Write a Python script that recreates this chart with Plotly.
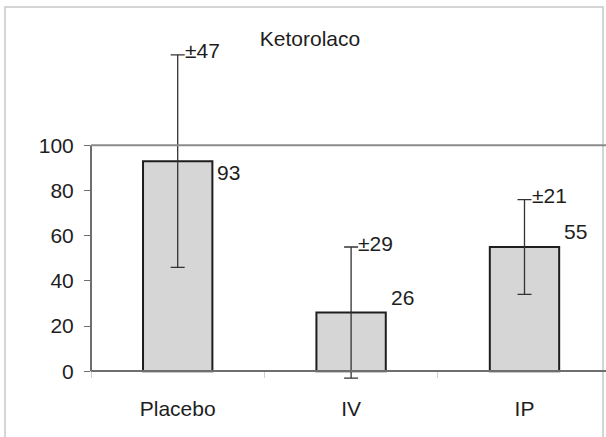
import plotly.graph_objects as go

# Ketorolaco: mean values per group with their standard deviations
categories = ["Placebo", "IV", "IP"]
means = [93, 26, 55]
sd = [47, 29, 21]
y_ticks = [0, 20, 40, 60, 80, 100]

W, H = 606, 437
M_L, M_R, M_T, M_B = 91, 0, 0, 0
Y_RANGE = [-29.07, 164.3]
X_RANGE = [-0.5, 2.47]
FONT = "Liberation Sans, Arial, Helvetica, sans-serif"
INK = "#1e1e1e"
AXIS_GRAY = "#6e6e6e"

plot_w = W - M_L - M_R
plot_h = H - M_T - M_B


def px_to_paper_x(px):
    return (px - M_L) / plot_w


def px_to_paper_y(py):
    return 1 - (py - M_T) / plot_h


fig = go.Figure()

fig.add_trace(go.Bar(
    x=categories,
    y=means,
    width=0.40,
    marker=dict(color="#d6d6d6", line=dict(color=INK, width=2)),
    error_y=dict(type="data", array=sd, visible=True,
                 color="#333333", thickness=1.3, width=7),
    hoverinfo="skip",
))

# value labels beside each bar
for i, (c, v) in enumerate(zip(categories, means)):
    near_top = v > 85
    fig.add_annotation(
        x=i + 0.2, y=v, xref="x", yref="y", text=str(v),
        showarrow=False, xanchor="left",
        yanchor="top" if near_top else "bottom",
        xshift=3, yshift=2,
        font=dict(family=FONT, size=21, color=INK),
    )

# ± labels at the top of each error bar
for i, (c, v, s) in enumerate(zip(categories, means, sd)):
    fig.add_annotation(
        x=i, y=v + s, xref="x", yref="y", text="±" + str(s),
        showarrow=False, xanchor="left", yanchor="middle",
        xshift=5, yshift=4,
        font=dict(family=FONT, size=21, color=INK),
    )

# y-axis line from 0 to 100 and the upper frame line at 100
fig.add_shape(type="line", xref="paper", yref="y", x0=0, x1=0,
              y0=y_ticks[0], y1=y_ticks[-1],
              line=dict(color=AXIS_GRAY, width=2))
fig.add_shape(type="line", xref="paper", yref="y", x0=0, x1=1,
              y0=y_ticks[-1], y1=y_ticks[-1],
              line=dict(color="#8a8a8a", width=2))

# light outer frame around the chart
fig.add_shape(type="rect", xref="paper", yref="paper",
              x0=px_to_paper_x(5), x1=px_to_paper_x(603),
              y0=px_to_paper_y(H + 5), y1=px_to_paper_y(7),
              line=dict(color="#c8c8c8", width=1.5), layer="below")

x_axis_pos = (0 - Y_RANGE[0]) / (Y_RANGE[1] - Y_RANGE[0])

fig.update_layout(
    width=W, height=H,
    margin=dict(l=M_L, r=M_R, t=M_T, b=M_B, pad=0),
    paper_bgcolor="white", plot_bgcolor="white",
    showlegend=False,
    title=dict(text="Ketorolaco", x=310 / W, xref="container", xanchor="center",
               y=1 - 39 / H, yref="container", yanchor="middle",
               font=dict(family=FONT, size=21, color=INK)),
    xaxis=dict(
        range=X_RANGE, anchor="free", position=x_axis_pos,
        showline=True, linecolor=AXIS_GRAY, linewidth=2,
        showgrid=False, zeroline=False,
        ticks="outside", tickson="boundaries", ticklen=6,
        tickcolor="#d0d0d0", tickwidth=1,
        ticklabelstandoff=18,
        tickfont=dict(family=FONT, size=21, color=INK),
    ),
    yaxis=dict(
        range=Y_RANGE, showline=False, showgrid=False, zeroline=False,
        tickmode="array", tickvals=y_ticks,
        ticktext=[str(t) for t in y_ticks],
        ticks="outside", ticklen=6, tickcolor=AXIS_GRAY, tickwidth=1,
        ticklabelstandoff=6,
        tickfont=dict(family=FONT, size=21, color=INK),
    ),
)

fig.write_html("out.html")
